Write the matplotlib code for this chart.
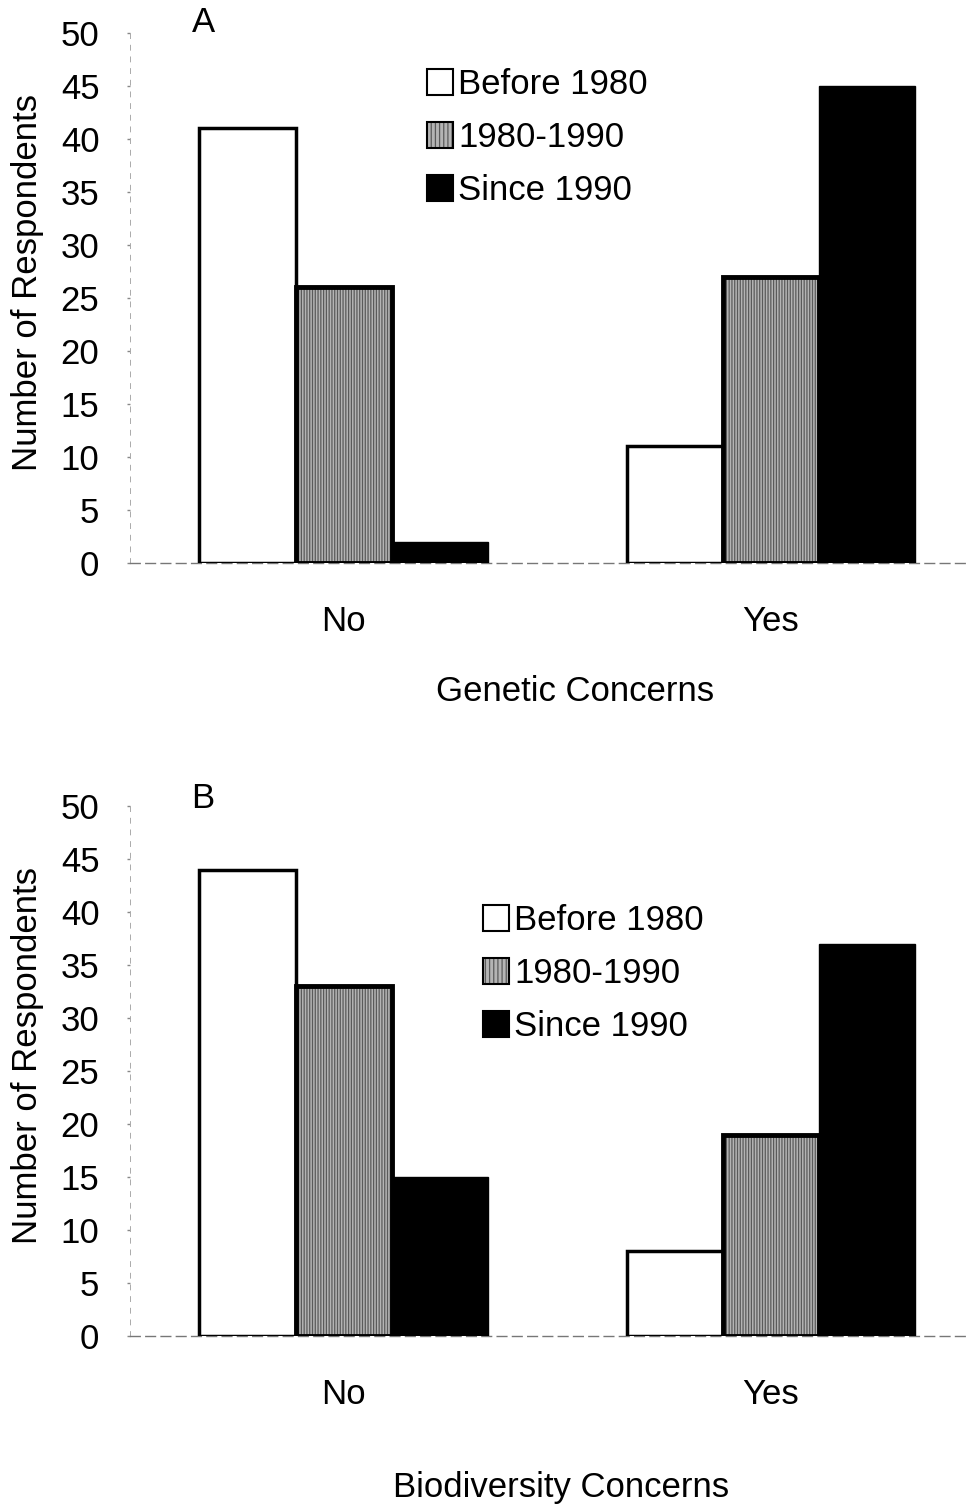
import matplotlib
matplotlib.use('Agg')
from matplotlib import pyplot as plt
from matplotlib.patches import Patch
import numpy as np

plt.rcParams['font.family'] = ['Liberation Sans', 'DejaVu Sans']
plt.rcParams['hatch.linewidth'] = 0.9

categories = ['No', 'Yes']
periods = ['Before 1980', '1980-1990', 'Since 1990']

genetic_before = [41, 11]
genetic_mid = [26, 27]
genetic_since = [2, 45]

biodiv_before = [44, 8]
biodiv_mid = [33, 19]
biodiv_since = [15, 37]

fs = 25
width = 0.225
x = np.arange(len(categories))

fig = plt.figure(figsize=(9.72, 15.04), dpi=100)
ax_a = fig.add_axes([130/972, 1-563/1504, 835/972, 530/1504])
ax_b = fig.add_axes([130/972, 1-1336/1504, 835/972, 530/1504])


def draw_panel(ax, before, mid, since, xlabel, xlab_pos, ylab_y, leg_xy):
    ax.bar(x - width, before, width, color='white', edgecolor='black',
           linewidth=2.5, zorder=3)
    # grey stippled bars: hatch layer + black outline layer
    ax.bar(x, mid, width, color='#b4b4b4', edgecolor='#5a5a5a', hatch='||||||',
           linewidth=0, zorder=3)
    ax.bar(x, mid, width, fill=False, edgecolor='black', linewidth=3.5, zorder=4)
    ax.bar(x + width, since, width, color='black', edgecolor='black',
           linewidth=1, zorder=3)

    ax.set_xlim(-0.5, 1.455)
    ax.set_ylim(0, 50)
    ax.set_yticks(range(0, 51, 5))
    ax.set_xticks(x)
    ax.set_xticklabels(categories)
    ax.tick_params(axis='y', labelsize=fs, length=2, width=1, color='#888888', pad=20)
    ax.tick_params(axis='x', labelsize=fs, length=0, pad=30)

    for s in ['top', 'right']:
        ax.spines[s].set_visible(False)
    ax.spines['left'].set_color('#aaaaaa')
    ax.spines['left'].set_linewidth(0.7)
    ax.spines['left'].set_linestyle((0, (5, 7)))
    ax.spines['bottom'].set_color('#777777')
    ax.spines['bottom'].set_linewidth(1.0)
    ax.spines['bottom'].set_linestyle((0, (7, 4)))

    ax.set_xlabel(xlabel, fontsize=fs, va='center')
    ax.xaxis.set_label_coords(xlab_pos[0], xlab_pos[1])
    ax.set_ylabel('Number of Respondents', fontsize=fs, va='center', ha='center')
    ax.yaxis.set_label_coords(-0.123, ylab_y)

    h_white = Patch(facecolor='white', edgecolor='black', linewidth=1.5)
    h_grey = (Patch(facecolor='#b4b4b4', edgecolor='#5a5a5a', hatch='||||', linewidth=0),
              Patch(fill=False, edgecolor='black', linewidth=1.5))
    h_black = Patch(facecolor='black', edgecolor='black', linewidth=1.5)
    ax.legend([h_white, h_grey, h_black], periods, loc='upper left',
              bbox_to_anchor=leg_xy, bbox_transform=fig.transFigure,
              frameon=False, fontsize=fs, handlelength=0.75, handleheight=0.75,
              handletextpad=0.15, labelspacing=0.58, borderpad=0, borderaxespad=0)


draw_panel(ax_a, genetic_before, genetic_mid, genetic_since, 'Genetic Concerns',
           (0.533, -0.243), 0.530, (427/972, 1-68/1504))
draw_panel(ax_b, biodiv_before, biodiv_mid, biodiv_since, 'Biodiversity Concerns',
           (0.516, -0.285), 0.530, (483/972, 1-904/1504))

fig.text(203/972, 1-23/1504, 'A', fontsize=fs, ha='center', va='center')
fig.text(203/972, 1-798/1504, 'B', fontsize=fs, ha='center', va='center')

fig.savefig('out.png', dpi=100, facecolor='white')
